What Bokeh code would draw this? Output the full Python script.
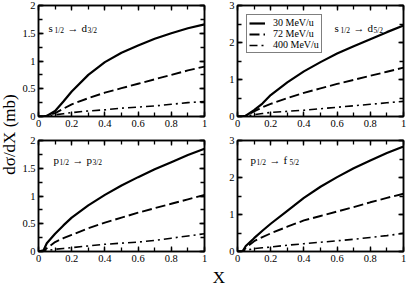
import math
from bokeh.plotting import figure
from bokeh.models import (Range1d, LinearAxis, SingleIntervalTicker, NumeralTickFormatter,
                          Label, Legend, LegendItem, GridBox)
from bokeh.embed import file_html
from bokeh.resources import INLINE

# ---------------- data ----------------
x = [0, 0.03, 0.05, 0.1, 0.15, 0.2, 0.3, 0.4, 0.5, 0.6, 0.7, 0.8, 0.9, 1.0]
energies = ["30 MeV/u", "72 MeV/u", "400 MeV/u"]

# s1/2 -> d3/2
sd3_30 = [0, 0.0, 0.01, 0.10, 0.27, 0.45, 0.75, 0.98, 1.15, 1.28, 1.40, 1.50, 1.59, 1.66]
sd3_72 = [0, 0.0, 0.01, 0.06, 0.14, 0.22, 0.33, 0.43, 0.51, 0.59, 0.67, 0.75, 0.83, 0.90]
sd3_400 = [0, 0.0, 0.005, 0.03, 0.05, 0.07, 0.10, 0.12, 0.15, 0.17, 0.19, 0.22, 0.25, 0.27]
# s1/2 -> d5/2
sd5_30 = [0, 0.0, 0.02, 0.17, 0.35, 0.58, 0.92, 1.22, 1.47, 1.70, 1.90, 2.09, 2.28, 2.46]
sd5_72 = [0, 0.0, 0.02, 0.14, 0.25, 0.34, 0.50, 0.64, 0.76, 0.88, 0.99, 1.10, 1.21, 1.32]
sd5_400 = [0, 0.0, 0.01, 0.05, 0.08, 0.11, 0.14, 0.17, 0.21, 0.25, 0.29, 0.33, 0.37, 0.41]
# p1/2 -> p3/2
pp3_30 = [0, 0.02, 0.15, 0.32, 0.47, 0.61, 0.83, 1.02, 1.19, 1.34, 1.48, 1.61, 1.74, 1.85]
pp3_72 = [0, 0.01, 0.06, 0.17, 0.24, 0.30, 0.42, 0.52, 0.61, 0.70, 0.78, 0.86, 0.94, 1.02]
pp3_400 = [0, 0.005, 0.015, 0.04, 0.055, 0.07, 0.10, 0.13, 0.15, 0.17, 0.20, 0.24, 0.28, 0.32]
# p1/2 -> f5/2
pf5_30 = [0, 0.0, 0.15, 0.36, 0.56, 0.75, 1.10, 1.45, 1.75, 2.01, 2.25, 2.46, 2.66, 2.84]
pf5_72 = [0, 0.0, 0.10, 0.28, 0.39, 0.49, 0.67, 0.84, 0.96, 1.08, 1.20, 1.33, 1.45, 1.56]
pf5_400 = [0, 0.0, 0.03, 0.08, 0.10, 0.12, 0.17, 0.21, 0.25, 0.29, 0.33, 0.38, 0.43, 0.49]

# ---------------- layout constants ----------------
FONT = "'Liberation Serif'"
FW_L, FW_R, FH = 167, 166, 111
YLAB_W = 19
BL_L, BR_L = 18, 6
BL_R, BR_R = 27, 4
TOP_BT, TOP_BB = 5, 15
BOT_BT, BOT_BB = 9, 14
XLAB_H = 23

DASHES = [None, "10 4", "8 4 2 4"]
WIDTHS = [2.2, 1.9, 1.6]


def style_axis(ax, interval, labels=True):
    ax.ticker = SingleIntervalTicker(interval=interval, num_minor_ticks=2)
    ax.major_tick_in = 5
    ax.major_tick_out = 0
    ax.minor_tick_in = 4
    ax.minor_tick_out = 0
    ax.axis_line_width = 1.5
    ax.axis_line_color = "black"
    ax.major_tick_line_width = 1.3
    ax.minor_tick_line_width = 1.3
    ax.major_tick_line_color = "black"
    ax.minor_tick_line_color = "black"
    ax.formatter = NumeralTickFormatter(format="0.[0]")
    ax.major_label_text_font = FONT
    if labels:
        ax.major_label_text_color = "black"
        ax.major_label_text_font_size = "10.5px"
        ax.major_label_standoff = 3
    else:
        ax.major_label_text_color = None
        ax.major_label_text_font_size = "0px"
        ax.major_label_standoff = 0


def make_panel(series, ymax, yint, fw, bl, br, bt, bb, trans, tpos):
    p = figure(width=bl + fw + br, height=bt + FH + bb,
               x_range=Range1d(0, 1), y_range=Range1d(0, ymax),
               toolbar_location=None, output_backend="svg",
               min_border_left=bl, min_border_right=br,
               min_border_top=bt, min_border_bottom=bb)
    p.grid.visible = False
    p.outline_line_color = "black"
    p.outline_line_width = 1.5
    p.background_fill_color = "white"
    p.border_fill_color = "white"
    style_axis(p.xaxis[0], 0.2)
    style_axis(p.yaxis[0], yint)
    top = LinearAxis()
    style_axis(top, 0.2, labels=False)
    p.add_layout(top, "above")
    right = LinearAxis()
    style_axis(right, yint, labels=False)
    p.add_layout(right, "right")

    rends = []
    for ys, dash, w in zip(series, DASHES, WIDTHS):
        kw = dict(line_color="black", line_width=w)
        if dash:
            kw["line_dash"] = dash
        rends.append(p.line(x, ys, **kw))

    # transition label with subscripts
    (a, asub, b, bsub) = trans
    dx0, dy0 = tpos
    ax = dx0 / fw
    ay = ymax * (1 - dy0 / FH)
    pieces = [(a, 0, 0, "11px"), (asub, 6, -3, "7.5px"), ("\u2192", 19, 0, "11px"),
              (b, 33, 0, "11px"), (bsub, 39, -3, "7.5px")]
    for txt, ox, oy, fs in pieces:
        p.add_layout(Label(x=ax, y=ay, x_offset=ox, y_offset=oy, text=txt,
                           text_font=FONT, text_font_size=fs, text_color="black",
                           text_baseline="alphabetic", text_align="left"))
    return p, rends


p1, r1 = make_panel([sd3_30, sd3_72, sd3_400], 2, 0.5, FW_L, BL_L, BR_L, TOP_BT, TOP_BB,
                    ("s", "1/2", "d", "3/2"), (10, 22))
p2, r2 = make_panel([sd5_30, sd5_72, sd5_400], 3, 1, FW_R, BL_R, BR_R, TOP_BT, TOP_BB,
                    ("s", "1/2", "d", "5/2"), (97, 22))
p3, r3 = make_panel([pp3_30, pp3_72, pp3_400], 2, 0.5, FW_L, BL_L, BR_L, BOT_BT, BOT_BB,
                    ("p", "1/2", "p", "3/2"), (15, 19))
p4, r4 = make_panel([pf5_30, pf5_72, pf5_400], 3, 1, FW_R, BL_R, BR_R, BOT_BT, BOT_BB,
                    ("p", "1/2", "f", "5/2"), (13, 19))

legend = Legend(items=[LegendItem(label=e, renderers=[r]) for e, r in zip(energies, r2)],
                location="top_left", margin=9, padding=2, spacing=0,
                glyph_width=16, glyph_height=10, label_height=10, label_standoff=8,
                label_text_font=FONT, label_text_font_size="10px", label_text_color="black",
                border_line_color="black", border_line_width=1,
                background_fill_color="white", background_fill_alpha=1)
p2.add_layout(legend)

# y-axis title
H_TOT = TOP_BT + FH + TOP_BB + BOT_BT + FH + BOT_BB
ylab = figure(width=YLAB_W, height=H_TOT, x_range=Range1d(0, YLAB_W), y_range=Range1d(0, H_TOT),
              toolbar_location=None, output_backend="svg", min_border=0,
              x_axis_location=None, y_axis_location=None, outline_line_color=None)
ylab.grid.visible = False
ylab.add_layout(Label(x=9, y=126, text="d\u03c3/dX (mb)", angle=math.pi / 2,
                      text_font=FONT, text_font_size="17px", text_color="black",
                      text_align="center", text_baseline="middle"))

W_TOT = YLAB_W + BL_L + FW_L + BR_L + BL_R + FW_R + BR_R
xlab = figure(width=W_TOT, height=XLAB_H, x_range=Range1d(0, W_TOT), y_range=Range1d(0, XLAB_H),
              toolbar_location=None, output_backend="svg", min_border=0,
              x_axis_location=None, y_axis_location=None, outline_line_color=None)
xlab.grid.visible = False
xlab.add_layout(Label(x=220.5, y=11, text="X", text_font=FONT, text_font_size="17px",
                      text_color="black", text_align="center", text_baseline="middle"))

grid = GridBox(children=[(ylab, 0, 0, 2, 1), (p1, 0, 1), (p2, 0, 2), (p3, 1, 1), (p4, 1, 2),
                         (xlab, 2, 0, 1, 3)], spacing=0)

open("out.html", "w").write(file_html(grid, INLINE))
